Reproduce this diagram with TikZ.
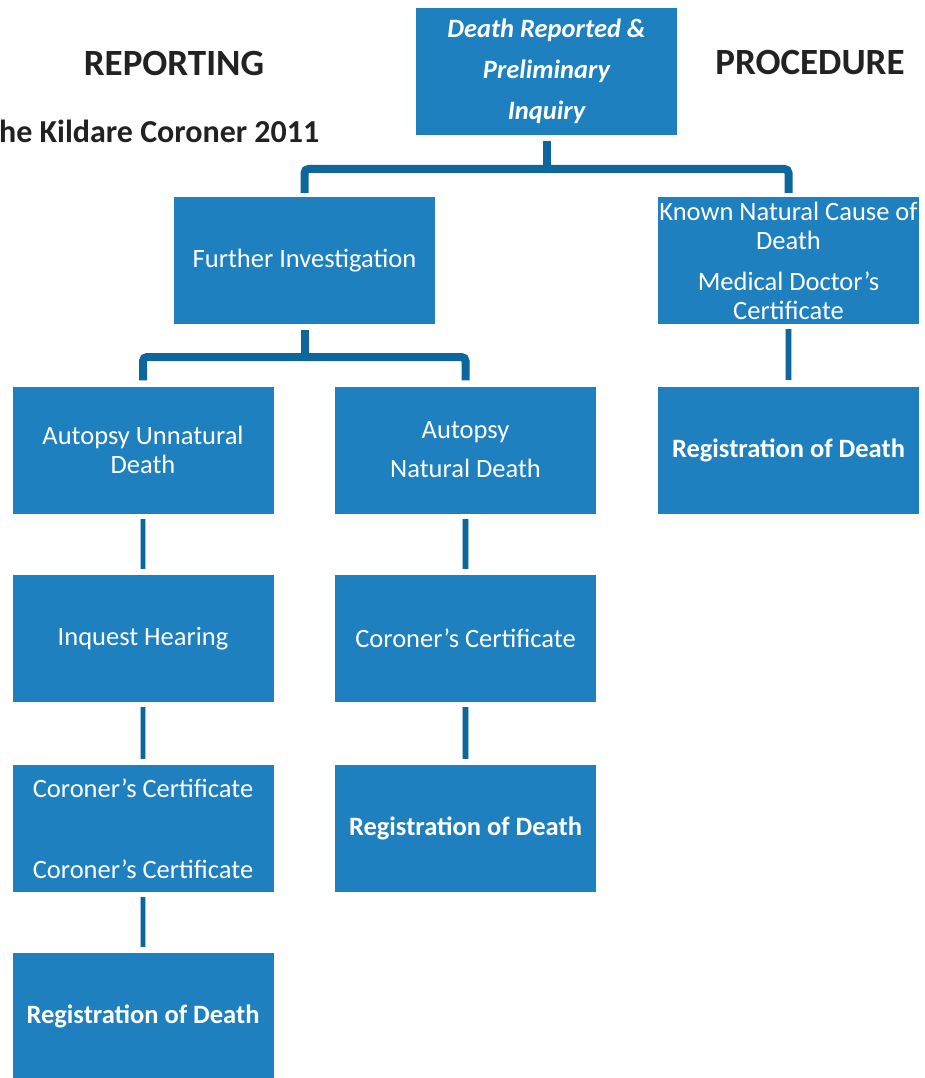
\documentclass[tikz,border=0pt]{standalone}
\usepackage{fontspec}
\setmainfont{Carlito}
\definecolor{boxblue}{HTML}{1F80C0}
\definecolor{connblue}{HTML}{0D669C}
\definecolor{edgeblue}{HTML}{9CC5E3}
\definecolor{titlegray}{HTML}{222222}
\begin{document}
\begin{tikzpicture}[x=1pt,y=-1pt,
  box/.style={fill=boxblue, text=white, minimum width=261pt, minimum height=127pt,
    inner sep=0pt, align=center, font=\fontsize{26.5}{29}\selectfont},
  boldbox/.style={box, font=\bfseries\fontsize{26.5}{29}\selectfont},
  conn/.style={draw=connblue, line width=8pt, rounded corners=4pt},
  link/.style={draw=edgeblue, line width=1.2pt, double=connblue, double distance=4.5pt},
  title/.style={text=titlegray, font=\bfseries\fontsize{37}{40}\selectfont, inner sep=0pt}]
\useasboundingbox[fill=white] (0,0) rectangle (924,1078);
% titles
\node[title] (rep) at (174,63) {REPORTING};
\node[title] (proc) at (810,63) {PROCEDURE};
\node[title, anchor=west, font=\bfseries\fontsize{32}{34}\selectfont] (src) at (-1,131) {he Kildare Coroner 2011};
% boxes
\node[box, font=\bfseries\itshape\fontsize{26.5}{29}\selectfont] (top) at (546.5,71.5) {Death Reported \&\\[12pt] Preliminary\\[12pt] Inquiry};
\node[box] (fi) at (304.5,260.5) {Further Investigation};
\node[box] (kn) at (788.5,260.5) {Known Natural Cause of\\ Death\\[12pt] Medical Doctor’s\\ Certificate};
\node[box] (au) at (143,450) {Autopsy Unnatural\\ Death};
\node[box] (an) at (465.5,450) {Autopsy\\[10pt] Natural Death};
\node[boldbox] (rr) at (788.5,450) {Registration of Death};
\node[box] (ih) at (143,638.5) {Inquest Hearing};
\node[box] (cc) at (465.5,638.5) {Coroner’s Certificate};
\node[box] (cc2) at (143,828.5) {Coroner’s Certificate\\[52pt] Coroner’s Certificate};
\node[boldbox] (rm) at (465.5,828.5) {Registration of Death};
\node[boldbox] (rl) at (143,1016.5) {Registration of Death};
% bracket connectors
\coordinate (h1) at (546.5,169);
\coordinate (h2) at (304.5,357);
\draw[conn] ([yshift=4pt]fi.north) |- (h1) -| ([yshift=4pt]kn.north);
\draw[conn, rounded corners=0pt] ([yshift=-6pt]top.south) -- (h1);
\draw[conn] ([yshift=6pt]au.north) |- (h2) -| ([yshift=6pt]an.north);
\draw[conn, rounded corners=0pt] ([yshift=-6pt]fi.south) -- (h2);
% short links
\draw[link] ([yshift=-5pt]au.south) -- ([yshift=6pt]ih.north);
\draw[link] ([yshift=-5pt]ih.south) -- ([yshift=6pt]cc2.north);
\draw[link] ([yshift=-5pt]cc2.south) -- ([yshift=6pt]rl.north);
\draw[link] ([yshift=-5pt]an.south) -- ([yshift=6pt]cc.north);
\draw[link] ([yshift=-5pt]cc.south) -- ([yshift=6pt]rm.north);
\draw[link] ([yshift=-5pt]kn.south) -- ([yshift=6pt]rr.north);
\end{tikzpicture}
\end{document}
